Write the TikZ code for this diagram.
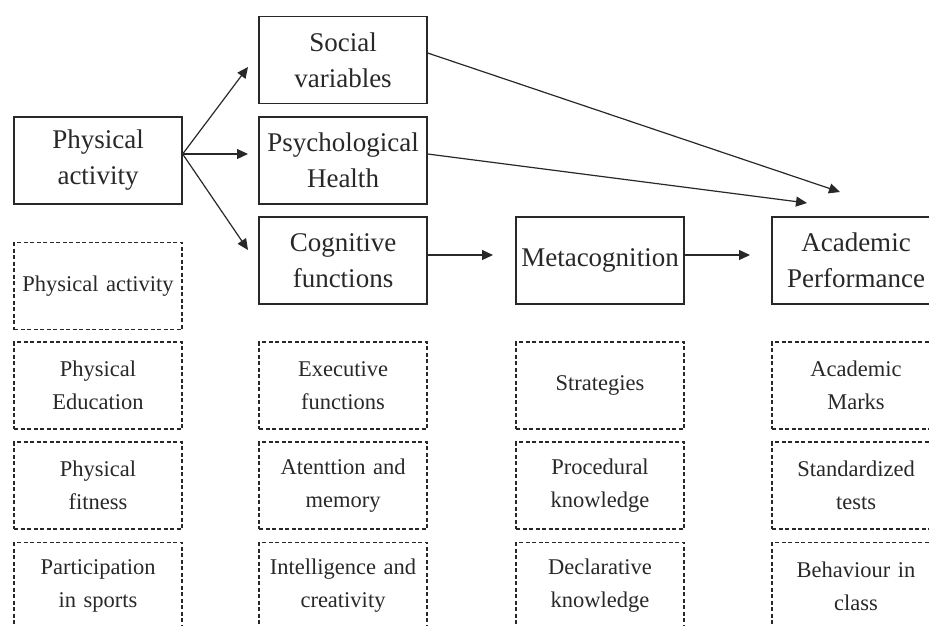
\documentclass[tikz,border=0pt]{standalone}
\usepackage{fontspec}
\setmainfont{Liberation Serif}
\usetikzlibrary{arrows.meta,calc}
\definecolor{ink}{RGB}{40,40,40}
\tikzset{
  mainbox/.style={draw=ink, line width=1.3pt, text=ink, text width=160pt, inner xsep=4pt, inner ysep=0pt,
    minimum height=87pt, align=center, font=\fontsize{27}{36}\selectfont},
  subbox/.style={draw=ink, line width=1.3pt, dash pattern=on 4pt off 2.5pt, text=ink, text width=160pt,
    inner xsep=4pt, inner ysep=0pt, minimum height=87pt, align=center, font=\fontsize{22.5}{33}\selectfont},
  conn/.style={draw=ink, line width=1.2pt, -{Triangle[length=11pt,width=10pt]}}
}
\begin{document}
\begin{tikzpicture}[x=1pt,y=-1pt]
\useasboundingbox (0,0) rectangle (929,626);
\clip (0,0) rectangle (929,626);
% main boxes
\node[mainbox] (pa) at (98,160.5) {Physical\\activity};
\node[mainbox] (sv) at (343,60) {Social\\variables};
\node[mainbox] (ph) at (343,160.5) {Psychological\\Health};
\node[mainbox] (cf) at (343,260.5) {Cognitive\\functions};
\node[mainbox] (mc) at (600,260.5) {Metacognition};
\node[mainbox] (ap) at (856,260.5) {Academic\\Performance};
% sub boxes column 1
\node[subbox] (pa1) at (98,286) {Physical activity};
\node[subbox] (pa2) at (98,385.5) {Physical\\Education};
\node[subbox] (pa3) at (98,485.5) {Physical\\fitness};
\node[subbox] (pa4) at (98,586) {Participation\\in sports};
% column 2
\node[subbox] (cf1) at (343,385.5) {Executive\\functions};
\node[subbox] (cf2) at (343,485.5) {Atenttion and\\memory};
\node[subbox] (cf3) at (343,586) {Intelligence and\\creativity};
% column 3
\node[subbox] (mc1) at (600,385.5) {Strategies};
\node[subbox] (mc2) at (600,485.5) {Procedural\\knowledge};
\node[subbox] (mc3) at (600,586) {Declarative\\knowledge};
% column 4
\node[subbox] (ap1) at (856,385.5) {Academic\\Marks};
\node[subbox] (ap2) at (856,485.5) {Standardized\\tests};
\node[subbox] (ap3) at (856,586) {Behaviour in\\class};
% arrow end points
\coordinate (pao) at ($(pa.east)+(0,-6.5)$);
\coordinate (tsv) at (248,67);
\coordinate (tph) at (248,154);
\coordinate (tcf) at (248,250);
\coordinate (tmc) at (493,255);
\coordinate (tap) at (750,255);
\coordinate (tap1) at (840,192);
\coordinate (tap2) at (807,203);
% connectors
\draw[conn] (pao) -- (tsv);
\draw[conn] (pao) -- (tph);
\draw[conn] (pao) -- (tcf);
\draw[conn] ($(cf.east)+(0,-5.5)$) -- (tmc);
\draw[conn] ($(mc.east)+(0,-5.5)$) -- (tap);
\draw[conn] ($(sv.east)+(0,-7)$) -- (tap1);
\draw[conn] ($(ph.east)+(0,-6.5)$) -- (tap2);
\end{tikzpicture}
\end{document}
